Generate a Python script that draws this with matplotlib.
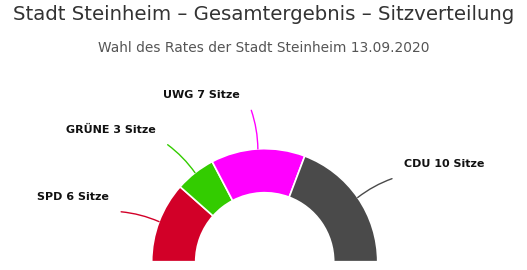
import numpy as np
import matplotlib
matplotlib.use("Agg")
import matplotlib.pyplot as plt

parties = ["SPD", "GRÜNE", "UWG", "CDU"]
seats = [6, 3, 7, 10]
colors = ["#d20028", "#33cc00", "#ff00ff", "#4a4a4a"]
title = "Stadt Steinheim – Gesamtergebnis – Sitzverteilung"
subtitle = "Wahl des Rates der Stadt Steinheim 13.09.2020"

W, H = 527, 270
fig = plt.figure(figsize=(W / 100, H / 100), dpi=100)
ax = fig.add_axes([0, 0, 1, 1])

cx, cy = 264.7, 8.3
R, r = 113, 69
total = sum(seats)

wedges, _ = ax.pie(seats + [total], colors=colors + ["none"], startangle=180,
                   counterclock=False, center=(cx, cy), radius=R,
                   wedgeprops=dict(width=R - r, edgecolor="white", linewidth=1.2))
wedges[-1].set_edgecolor("none")

ax.set_xlim(0, W)
ax.set_ylim(0, H)
ax.set_aspect("auto")
ax.axis("off")

cum = 0
for p, s, c in zip(parties, seats, colors):
    mid = 180 - (cum + s / 2) / total * 180
    cum += s
    a = np.radians(mid)
    x0, y0 = cx + R * np.cos(a), cy + R * np.sin(a)
    left = np.cos(a) < 0
    a2 = np.radians(mid + (1.6 if left else -1.5))
    x1, y1 = cx + 152 * np.cos(a2), cy + 152 * np.sin(a2)
    ax.annotate("", xy=(x0, y0), xytext=(x1, y1),
                arrowprops=dict(arrowstyle="-", color=c, lw=1,
                                connectionstyle="arc3,rad=%s" % (-0.08 if left else 0.08),
                                shrinkA=0, shrinkB=0))
    ax.text(x1 + (-12 if left else 12), y1 + 15, f"{p} {s} Sitze",
            ha="right" if left else "left", va="center",
            fontsize=8, fontweight="bold", color="#111111", family="DejaVu Sans")

fig.text(0.5, 1 - 15 / H, title, ha="center", va="center",
         fontsize=14.2, color="#333333", family="DejaVu Sans")
fig.text(0.5, 1 - 48 / H, subtitle, ha="center", va="center",
         fontsize=9.9, color="#555555", family="DejaVu Sans")

fig.savefig("out.png", dpi=100, facecolor="white")
